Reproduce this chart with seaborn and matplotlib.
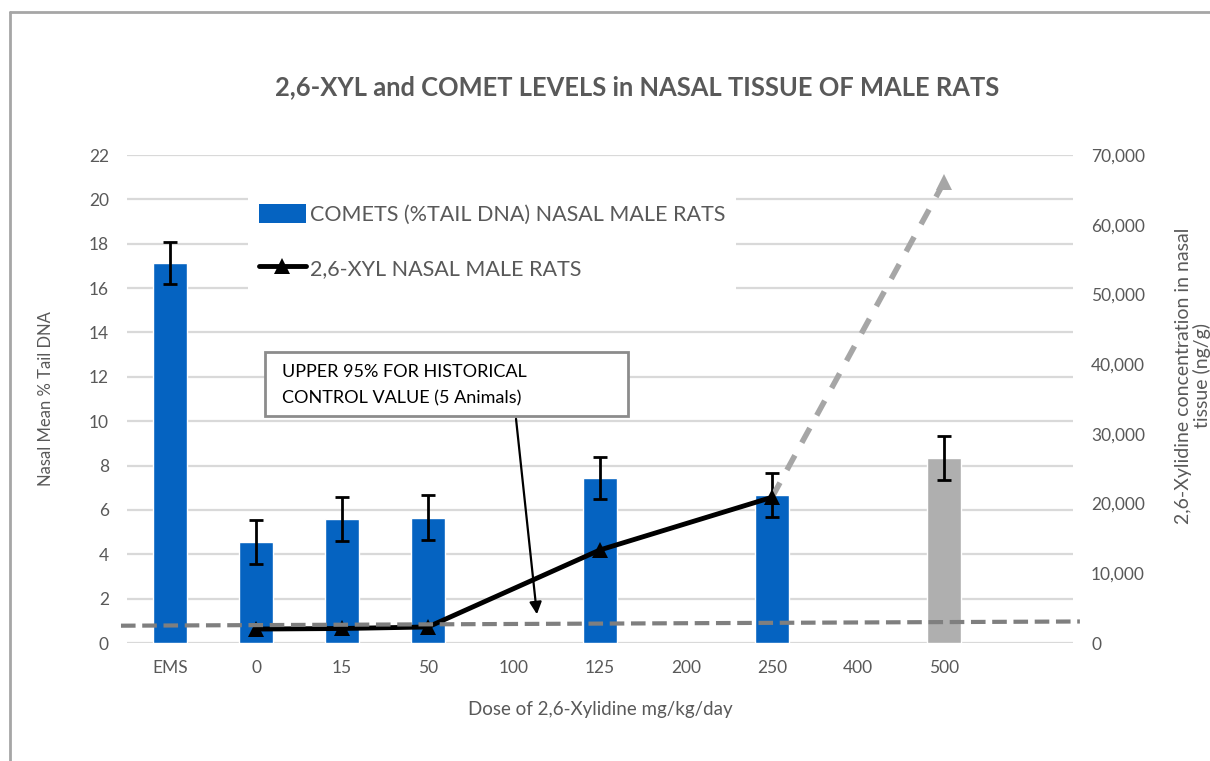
import numpy as np
import pandas as pd
import matplotlib
matplotlib.use("Agg")
import matplotlib.pyplot as plt
import seaborn as sns
from matplotlib.lines import Line2D
from matplotlib.patches import Patch, Rectangle
from matplotlib.ticker import FuncFormatter

# ---- data -------------------------------------------------------------
doses = ["EMS", "0", "15", "50", "100", "125", "200", "250", "400", "500", ""]
tail_dna = [17.15, 4.55, 5.58, 5.65, np.nan, 7.45, np.nan, 6.67, np.nan, 8.35, np.nan]
tail_err = [0.95, 1.0, 1.0, 1.0, np.nan, 0.95, np.nan, 1.0, np.nan, 1.0, np.nan]

xyl_doses = ["0", "15", "50", "125", "250"]
xyl_conc = [2000, 2080, 2300, 13350, 20900]

proj_doses = ["250", "500"]
proj_conc = [20900, 66100]

hist_upper = [0.78, 0.97]          # upper 95% historical control (% tail DNA)

left_ticks = list(range(0, 23, 2))
right_ticks = list(range(0, 70001, 10000))

title = "2,6-XYL and COMET LEVELS in NASAL TISSUE OF MALE RATS"
bar_label = "COMETS (%TAIL DNA) NASAL MALE RATS"
line_label = "2,6-XYL NASAL MALE RATS"
note = "UPPER 95% FOR HISTORICAL\nCONTROL VALUE (5 Animals)"

# ---- style ------------------------------------------------------------
sns.set_theme(style="white")
plt.rcParams["font.family"] = ["Lato", "DejaVu Sans"]
GREY_TXT = "#595959"
BLUE = "#0563C1"
BAR_GREY = "#AFAFAF"

fig = plt.figure(figsize=(12.10, 7.61), dpi=100)
ax = fig.add_axes([127 / 1210, 1 - 643 / 761, (1073 - 127) / 1210, (643 - 155) / 761])

pos = {d: i for i, d in enumerate(doses)}
df = pd.DataFrame({"dose": doses, "tail": tail_dna, "err": tail_err})
bars = df.dropna(subset=["tail"])
palette = {d: (BAR_GREY if d == "500" else BLUE) for d in doses}

sns.barplot(data=bars, x="dose", y="tail", order=doses, hue="dose",
            palette=palette, width=0.4, legend=False, errorbar=None,
            saturation=1, ax=ax)
ax.errorbar([pos[d] for d in bars["dose"]], bars["tail"], yerr=bars["err"],
            fmt="none", ecolor="black", elinewidth=2, capsize=5, capthick=2,
            zorder=3)

ax.set_xlim(-0.5, len(doses) - 0.5)
ax.set_ylim(0, 22)
ax.set_yticks(left_ticks)
ax.yaxis.grid(True, color="#D9D9D9", lw=1.6)
ax.set_axisbelow(True)
for s in ax.spines.values():
    s.set_visible(False)
ax.tick_params(axis="both", length=0, labelsize=12.5, labelcolor=GREY_TXT)
ax.tick_params(axis="y", pad=13)
ax.tick_params(axis="x", pad=12)
ax.set_xlabel("Dose of 2,6-Xylidine mg/kg/day", fontsize=13.5, color=GREY_TXT, labelpad=18)
ax.set_ylabel("Nasal Mean % Tail DNA", fontsize=12, color=GREY_TXT, labelpad=25)

# ---- secondary axis: tissue concentration ------------------------------
ax2 = ax.twinx()
ax2.set_ylim(0, 70000)
ax2.set_yticks(right_ticks)
ax2.yaxis.set_major_formatter(FuncFormatter(lambda v, p: f"{int(v):,}"))
for s in ax2.spines.values():
    s.set_visible(False)
ax2.tick_params(axis="y", length=0, labelsize=12.5, labelcolor=GREY_TXT, pad=13)
ax2.grid(False)

sns.lineplot(x=[pos[d] for d in proj_doses], y=proj_conc, ax=ax2, color="#A6A6A6",
             lw=4, linestyle=(0, (3, 2.6)), marker="^", markersize=11,
             markevery=[1], markeredgewidth=0, zorder=2)
sns.lineplot(x=[pos[d] for d in xyl_doses], y=xyl_conc, ax=ax2, color="black",
             lw=3.5, marker="^", markersize=11, markeredgewidth=0, zorder=3)

# historical control line, expressed in right-axis units
scale = 70000 / 22
ax2.plot([-0.57, len(doses) - 0.42], [v * scale for v in hist_upper],
         color="#7F7F7F", lw=3, linestyle=(0, (3.5, 1.6)), clip_on=False, zorder=4)

# ---- annotation box with arrow ----------------------------------------
ax.add_patch(Rectangle((1.105, 10.23), 4.225, 2.89, facecolor="white",
                       edgecolor="#8C8C8C", lw=2, zorder=5))
ax.text(1.30, 11.62, note, fontsize=13, color="black", va="center", ha="left",
        linespacing=1.8, zorder=6)
ax2.annotate("", xy=(4.27, 1.17 * scale), xytext=(4.02, 10.23 * scale),
             arrowprops=dict(arrowstyle="-|>", color="black", lw=1.6,
                             mutation_scale=18), zorder=6)

# ---- legend -----------------------------------------------------------
handles = [Patch(facecolor=BLUE, edgecolor="none", label=bar_label),
           Line2D([], [], color="black", lw=3.5, marker="^", markersize=11,
                  markeredgewidth=0, label=line_label)]
leg = ax2.legend(handles=handles, loc="upper left",
                 bbox_to_anchor=((237 - 127) / 946, (643 - 182) / 488),
                 frameon=True, fancybox=False, framealpha=1, facecolor="white",
                 edgecolor="none", fontsize=15.5, labelcolor=GREY_TXT,
                 handlelength=2.2, handleheight=1.0, handletextpad=0.2,
                 labelspacing=1.55, borderpad=0.5)
leg.set_zorder(7)

# ---- titles and outer frame -------------------------------------------
fig.text(637 / 1210, 1 - 87 / 761, title, fontsize=18.4, fontweight="bold",
         color=GREY_TXT, ha="center", va="center")
fig.text(1193 / 1210, 1 - 376 / 761,
         "2,6-Xylidine concentration in nasal\ntissue (ng/g)",
         rotation=90, fontsize=14, color=GREY_TXT, ha="center", va="center",
         multialignment="center", linespacing=1.05)

fig.add_artist(Line2D([10 / 1210, 10 / 1210], [0, 1 - 12 / 761],
                      color="#A6A6A6", lw=2, transform=fig.transFigure))
fig.add_artist(Line2D([10 / 1210, 1], [1 - 12 / 761, 1 - 12 / 761],
                      color="#A6A6A6", lw=2, transform=fig.transFigure))

fig.savefig("out.png", dpi=100, facecolor="white")
